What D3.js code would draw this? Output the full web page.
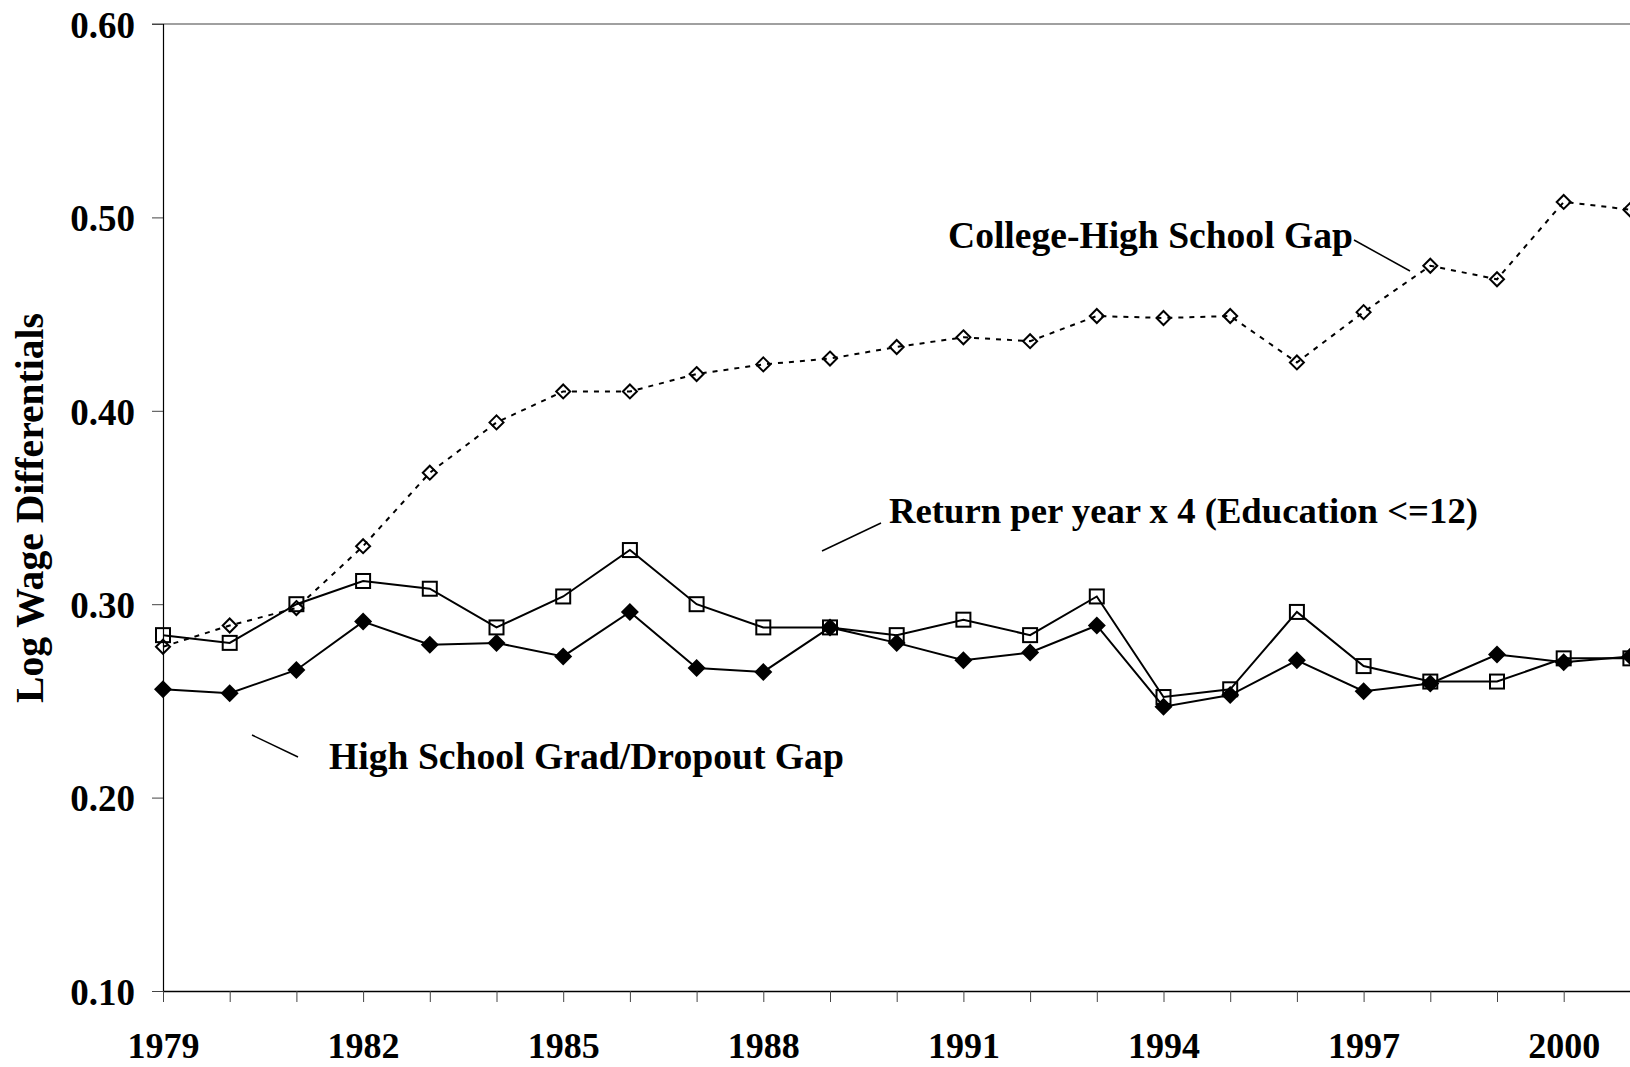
<!DOCTYPE html>
<html>
<head>
<meta charset="utf-8">
<script src="https://cdn.jsdelivr.net/npm/d3@7"></script>
<style>
  body { margin: 0; background: #fff; }
  svg { display: block; }
  text { font-family: "Liberation Serif", "Times New Roman", serif; font-weight: bold; fill: #000; }
</style>
</head>
<body>
<svg id="chart" width="1630" height="1067"></svg>
<script>
// ---------- data ----------
const years = [1979,1980,1981,1982,1983,1984,1985,1986,1987,1988,1989,1990,
               1991,1992,1993,1994,1995,1996,1997,1998,1999,2000,2001];
const collegeHSGap = [0.278,0.289,0.298,0.330,0.368,0.394,0.410,0.410,0.419,0.424,0.427,0.433,
                      0.438,0.436,0.449,0.448,0.449,0.425,0.451,0.475,0.468,0.508,0.504];
const returnPerYearX4 = [0.284,0.280,0.300,0.312,0.308,0.288,0.304,0.328,0.300,0.288,0.288,0.284,
                         0.292,0.284,0.304,0.252,0.256,0.296,0.268,0.260,0.260,0.272,0.272];
const hsDropoutGap = [0.256,0.254,0.266,0.291,0.279,0.280,0.273,0.296,0.267,0.265,0.288,0.280,
                      0.271,0.275,0.289,0.247,0.253,0.271,0.255,0.259,0.274,0.270,0.273];
const yTicks = [0.10,0.20,0.30,0.40,0.50,0.60];
const xLabelYears = [1979,1982,1985,1988,1991,1994,1997,2000];
const yTitle = "Log Wage Differentials";
const labelCollege = "College-High School Gap";
const labelReturn = "Return per year x 4 (Education <=12)";
const labelHS = "High School Grad/Dropout Gap";

// ---------- layout ----------
const svg = d3.select("#chart");
const W = 1630, H = 1067;
const x = d3.scaleLinear().domain([1979, 2001]).range([163, 1630.4]);
const y = d3.scaleLinear().domain([0.1, 0.6]).range([991, 24]);

function fitWidth(sel, w) {
  const cur = sel.node().getComputedTextLength();
  const fs = parseFloat(sel.attr("font-size"));
  sel.attr("font-size", (fs * w / cur).toFixed(2));
}

// top gray border line
svg.append("line")
  .attr("x1", 152).attr("x2", W).attr("y1", y(0.6)).attr("y2", y(0.6))
  .attr("stroke", "#808080").attr("stroke-width", 1.6);

// y axis
const yAxis = svg.append("g")
  .attr("transform", `translate(${x(1979)},0)`)
  .call(d3.axisLeft(y).tickValues(yTicks).tickSize(11).tickFormat(d3.format(".2f")));
yAxis.select(".domain").attr("stroke", "#000").attr("stroke-width", 1.2);
yAxis.selectAll(".tick line").attr("stroke", "#444").attr("stroke-width", 1);
yAxis.selectAll(".tick text")
  .attr("x", -28).attr("dy", "0.36em")
  .attr("font-size", 37)
  .style("font-family", "'Liberation Serif', serif").style("font-weight", "bold").attr("fill", "#000");

// x axis
const xAxis = svg.append("g")
  .attr("transform", `translate(0,${y(0.1)})`)
  .call(d3.axisBottom(x).tickValues(years).tickSize(11)
        .tickFormat(d => xLabelYears.includes(d) ? String(d) : ""));
xAxis.select(".domain").attr("d", `M${x(1979)},0.5H${W}`).attr("stroke", "#000").attr("stroke-width", 1.6);
xAxis.selectAll(".tick line").attr("stroke", "#444").attr("stroke-width", 1);
xAxis.selectAll(".tick text")
  .attr("y", 67).attr("dy", 0)
  .attr("font-size", 36)
  .style("font-family", "'Liberation Serif', serif").style("font-weight", "bold").attr("fill", "#000");

// y title
const yt = svg.append("text")
  .attr("transform", `translate(43,${508}) rotate(-90)`)
  .attr("text-anchor", "middle")
  .attr("font-size", 38)
  .text(yTitle);
fitWidth(yt, 390);

// ---------- series ----------
const seriesCollege = years.map((d, i) => [d, collegeHSGap[i]]);
const seriesReturn = years.map((d, i) => [d, returnPerYearX4[i]]);
const seriesHS = years.map((d, i) => [d, hsDropoutGap[i]]);
const line = d3.line().x(d => x(d[0])).y(d => y(d[1]));

// college: dashed + open diamonds
svg.append("path").datum(seriesCollege)
  .attr("d", line).attr("fill", "none").attr("stroke", "#000")
  .attr("stroke-width", 2).attr("stroke-dasharray", "5,6");
svg.append("g").selectAll("path").data(seriesCollege).join("path")
  .attr("transform", d => `translate(${x(d[0])},${y(d[1])})`)
  .attr("d", "M0,-7L7,0L0,7L-7,0Z")
  .attr("fill", "none").attr("stroke", "#000").attr("stroke-width", 2);

// return per year: solid + open squares
svg.append("path").datum(seriesReturn)
  .attr("d", line).attr("fill", "none").attr("stroke", "#000").attr("stroke-width", 2);
svg.append("g").selectAll("rect").data(seriesReturn).join("rect")
  .attr("x", d => x(d[0]) - 7).attr("y", d => y(d[1]) - 7)
  .attr("width", 14).attr("height", 14)
  .attr("fill", "none").attr("stroke", "#000").attr("stroke-width", 2);

// HS grad/dropout: solid + filled diamonds
svg.append("path").datum(seriesHS)
  .attr("d", line).attr("fill", "none").attr("stroke", "#000").attr("stroke-width", 2);
svg.append("g").selectAll("path").data(seriesHS).join("path")
  .attr("transform", d => `translate(${x(d[0])},${y(d[1])})`)
  .attr("d", "M0,-9L9,0L0,9L-9,0Z")
  .attr("fill", "#000").attr("stroke", "none");

// ---------- annotations ----------
const a1 = svg.append("text").attr("x", 948).attr("y", 248).attr("font-size", 36).text(labelCollege);
fitWidth(a1, 405);
svg.append("line").attr("x1", 1354).attr("y1", 240).attr("x2", 1410).attr("y2", 271)
  .attr("stroke", "#000").attr("stroke-width", 1.5);

const a2 = svg.append("text").attr("x", 889).attr("y", 523).attr("font-size", 34).text(labelReturn);
fitWidth(a2, 589);
svg.append("line").attr("x1", 881).attr("y1", 523).attr("x2", 822).attr("y2", 551)
  .attr("stroke", "#000").attr("stroke-width", 1.5);

const a3 = svg.append("text").attr("x", 329).attr("y", 769).attr("font-size", 34).text(labelHS);
fitWidth(a3, 515);
svg.append("line").attr("x1", 252).attr("y1", 735).attr("x2", 298).attr("y2", 757)
  .attr("stroke", "#000").attr("stroke-width", 1.5);
</script>
</body>
</html>
